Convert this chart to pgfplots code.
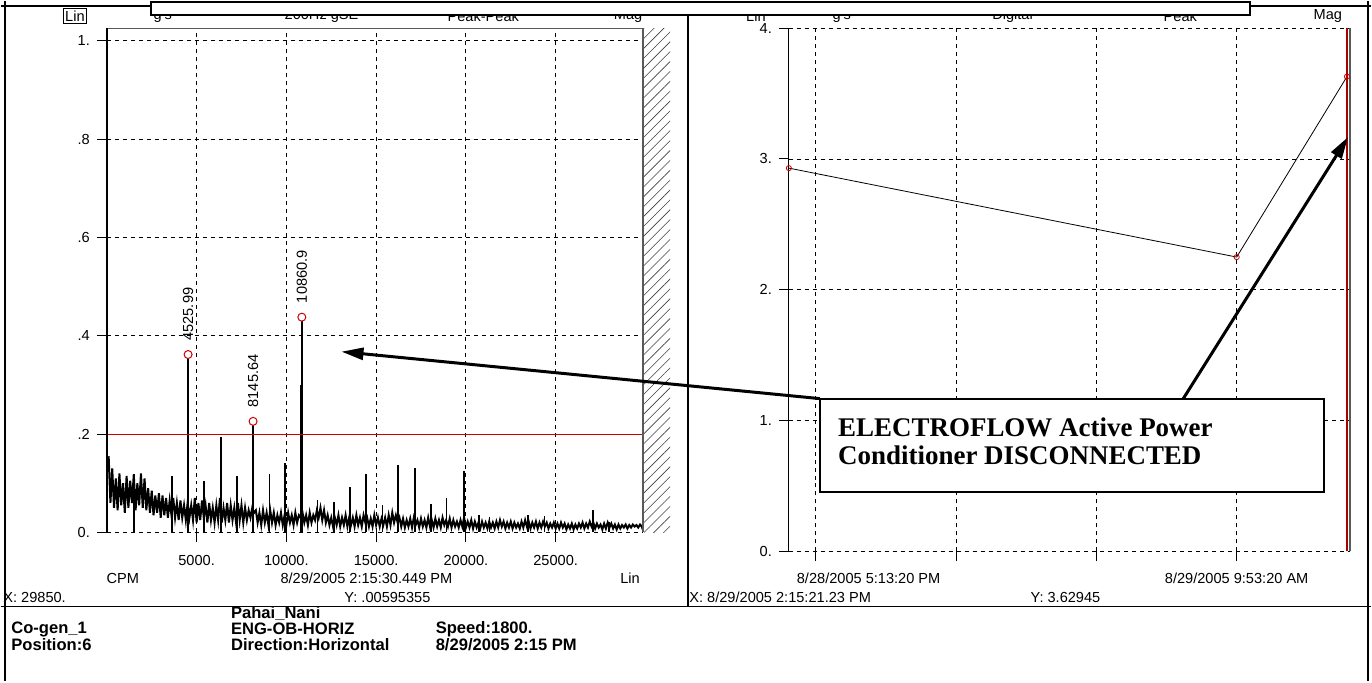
\documentclass[border=0pt]{standalone}
\usepackage{fontspec}
\setmainfont{Liberation Sans}
\newfontfamily\notefont{Liberation Serif}
\usepackage{pgfplots}
\pgfplotsset{compat=1.18}
\usetikzlibrary{arrows.meta,patterns.meta}

\definecolor{cursorred}{RGB}{205,0,0}
\definecolor{darkcursor}{RGB}{170,0,0}

\newcommand\ticksize{\fontsize{7.3}{8.5}\selectfont}
\newcommand\infosize{\fontsize{8.3}{9.5}\selectfont\bfseries}

\pgfplotsset{
  panel/.style={
    scale only axis,
    clip=false,
    axis line style={draw=none},
    tick align=outside,
    tick pos=left,
    major tick length=5pt,
    tick style={black, line width=0.5pt},
    grid=major,
    major grid style={black, line width=0.45pt, dash pattern=on 2pt off 2pt},
    ticklabel style={font=\ticksize},
    scaled x ticks=false,
    scaled y ticks=false,
    /pgf/number format/assume math mode=true,
  },
}

\begin{document}
\begin{tikzpicture}
\fill[white] (0,0) rectangle (686pt,-340.5pt);

% ---------------- spectrum panel ----------------
\begin{axis}[panel,
  at={(53pt,-266pt)}, anchor=south west,
  width=268.5pt, height=252.5pt,
  xmin=0, xmax=29870, ymin=0, ymax=1.026,
  xtick={5000,10000,15000,20000,25000},
  xticklabels={5000.,10000.,15000.,20000.,25000.},
  xticklabel style={yshift=-3pt},
  ytick={0,0.2,0.4,0.6,0.8,1},
  yticklabels={0.,.2,.4,.6,.8,1.},
]
% noise floor
\addplot[black, line width=1pt] coordinates {
(100,0.155)(200,0.06)(300,0.13)(400,0.05)(500,0.11)(600,0.045)(700,0.12)(800,0.055)(900,0.10)(1000,0.04)
(1100,0.115)(1200,0.05)(1300,0.105)(1400,0.06)(1500,0.118)(1600,0.045)(1700,0.10)(1800,0.055)(1900,0.12)(2000,0.05)
(2100,0.11)(2200,0.045)(2300,0.09)(2400,0.04)(2500,0.085)(2600,0.035)(2700,0.075)(2800,0.04)(2900,0.08)(3000,0.03)
(3100,0.075)(3200,0.035)(3300,0.07)(3400,0.03)(3500,0.065)(3600,0.035)(3700,0.07)(3800,0.03)(3900,0.06)(4000,0.025)
(4100,0.065)(4200,0.03)(4300,0.055)(4400,0.025)(4500,0.06)(4600,0.03)(4700,0.055)(4800,0.025)(4900,0.07)(5000,0.02)
(5100,0.06)(5200,0.025)(5300,0.065)(5400,0.03)(5500,0.055)(5600,0.02)(5700,0.06)(5800,0.025)(5900,0.05)(6000,0.02)
(6100,0.055)(6200,0.025)(6300,0.07)(6400,0.02)(6500,0.05)(6600,0.025)(6700,0.06)(6800,0.02)(6900,0.055)(7000,0.025)
(7100,0.05)(7200,0.02)(7300,0.06)(7400,0.025)(7500,0.055)(7600,0.02)(7700,0.05)(7800,0.025)(7900,0.045)(8000,0.03)
(8100,0.05)(8200,0.04)(8300,0.045)(8400,0.02)(8500,0.04)(8600,0.015)(8700,0.045)(8800,0.02)(8900,0.04)(9000,0.015)
(9100,0.045)(9200,0.02)(9300,0.04)(9400,0.015)(9500,0.035)(9600,0.02)(9700,0.04)(9800,0.015)(9900,0.035)(10000,0.015)
(10100,0.04)(10200,0.02)(10300,0.035)(10400,0.015)(10500,0.04)(10600,0.02)(10700,0.035)(10800,0.03)(10900,0.04)(11000,0.02)
(11100,0.035)(11200,0.015)(11300,0.04)(11400,0.02)(11500,0.035)(11600,0.025)(11700,0.045)(11800,0.03)(11900,0.05)(12000,0.025)
(12100,0.045)(12200,0.02)(12300,0.035)(12400,0.015)(12500,0.03)(12600,0.012)(12700,0.03)(12800,0.015)(12900,0.035)(13000,0.012)
(13100,0.03)(13200,0.015)(13300,0.035)(13400,0.012)(13500,0.03)(13600,0.015)(13700,0.03)(13800,0.012)(13900,0.035)(14000,0.015)
(14100,0.03)(14200,0.012)(14300,0.035)(14400,0.02)(14500,0.03)(14600,0.012)(14700,0.028)(14800,0.012)(14900,0.035)(15000,0.015)
(15100,0.03)(15200,0.012)(15300,0.028)(15400,0.015)(15500,0.03)(15600,0.012)(15700,0.035)(15800,0.015)(15900,0.04)(16000,0.02)
(16100,0.035)(16200,0.02)(16300,0.03)(16400,0.012)(16500,0.028)(16600,0.01)(16700,0.025)(16800,0.012)(16900,0.028)(17000,0.01)
(17100,0.03)(17200,0.015)(17300,0.025)(17400,0.01)(17500,0.028)(17600,0.012)(17700,0.025)(17800,0.01)(17900,0.03)(18000,0.012)
(18100,0.025)(18200,0.01)(18300,0.028)(18400,0.012)(18500,0.025)(18600,0.01)(18700,0.03)(18800,0.015)(18900,0.025)(19000,0.012)
(19100,0.028)(19200,0.01)(19300,0.025)(19400,0.012)(19500,0.022)(19600,0.01)(19700,0.025)(19800,0.012)(19900,0.03)(20000,0.01)
(20100,0.022)(20200,0.01)(20300,0.025)(20400,0.008)(20500,0.022)(20600,0.01)(20700,0.02)(20800,0.008)(20900,0.022)(21000,0.01)
(21100,0.02)(21200,0.008)(21300,0.022)(21400,0.01)(21500,0.02)(21600,0.008)(21700,0.022)(21800,0.01)(21900,0.025)(22000,0.012)
(22100,0.022)(22200,0.008)(22300,0.02)(22400,0.01)(22500,0.022)(22600,0.008)(22700,0.02)(22800,0.01)(22900,0.018)(23000,0.008)
(23100,0.022)(23200,0.01)(23300,0.025)(23400,0.012)(23500,0.022)(23600,0.008)(23700,0.02)(23800,0.01)(23900,0.022)(24000,0.008)
(24100,0.02)(24200,0.01)(24300,0.022)(24400,0.012)(24500,0.02)(24600,0.008)(24700,0.018)(24800,0.01)(24900,0.02)(25000,0.008)
(25100,0.018)(25200,0.008)(25300,0.02)(25400,0.01)(25500,0.018)(25600,0.006)(25700,0.016)(25800,0.008)(25900,0.018)(26000,0.006)
(26100,0.016)(26200,0.008)(26300,0.018)(26400,0.01)(26500,0.02)(26600,0.008)(26700,0.018)(26800,0.01)(26900,0.022)(27000,0.012)
(27100,0.02)(27200,0.008)(27300,0.018)(27400,0.01)(27500,0.016)(27600,0.006)(27700,0.018)(27800,0.008)(27900,0.02)(28000,0.01)
(28100,0.018)(28200,0.008)(28300,0.016)(28400,0.006)(28500,0.016)(28600,0.008)(28700,0.015)(28800,0.01)(28900,0.016)(29000,0.008)
(29100,0.015)(29200,0.01)(29300,0.016)(29400,0.012)(29500,0.015)(29600,0.01)(29700,0.016)(29800,0.012)(29850,0.006)
};
% harmonic spikes
\addplot[ycomb, black, line width=0.9pt] coordinates {
(1520,0.118)(3650,0.115)(5390,0.105)(6350,0.195)(7230,0.115)(9060,0.118)(9930,0.142)
(11730,0.065)(12640,0.062)(13560,0.092)(14440,0.118)(15360,0.056)(16230,0.137)(17170,0.131)
(18070,0.058)(18920,0.071)(19880,0.125)(20740,0.035)(21320,0.032)(23460,0.035)(24380,0.034)
(27070,0.045)(27950,0.022)
};
\addplot[ycomb, black, line width=1.4pt] coordinates {(8145.64,0.218)(10860.9,0.30)};
\addplot[ycomb, black, line width=0.8pt] coordinates {(4525.99,0.362)(8145.64,0.226)(10860.9,0.438)};
% alarm level and cursor
\addplot[cursorred, line width=0.5pt] coordinates {(0,0.2)(29870,0.2)};
\addplot[cursorred, line width=0.7pt] coordinates {(29850,0)(29850,1.026)};
% labelled peaks
\addplot[only marks, mark=*, mark size=2pt, mark options={fill=white, draw=cursorred, line width=0.5pt}]
  coordinates {(4525.99,0.362)(8145.64,0.226)(10860.9,0.438)};
\node[yshift=3.5pt, rotate=90, anchor=west, font=\ticksize] at (axis cs:4525.99,0.362) {4525.99};
\node[yshift=3.5pt, rotate=90, anchor=west, font=\ticksize] at (axis cs:8145.64,0.226) {8145.64};
\node[yshift=3.5pt, rotate=90, anchor=west, font=\ticksize] at (axis cs:10860.9,0.438) {10860.9};
% frame
\draw[black!65, line width=0.6pt] (rel axis cs:0,1) -- (rel axis cs:1,1) -- (rel axis cs:1,0);
\draw[black, line width=0.7pt] (rel axis cs:0,0) -- (rel axis cs:0,1);
\end{axis}

% hatched band right of the spectrum
\fill[pattern={Lines[angle=45,distance=3.5pt,line width=0.3pt]}, pattern color=black!75]
  (322pt,-13.5pt) rectangle (335pt,-266pt);

% ---------------- trend panel ----------------
\begin{axis}[panel,
  at={(394.5pt,-275.5pt)}, anchor=south west,
  width=281pt, height=262pt,
  xmin=-3.84, xmax=76.16, ymin=0, ymax=4,
  xtick={20,40,60},
  xticklabels={,,8/29/2005 9:53:20 AM},
  xticklabel style={yshift=-2.5pt},
  extra x ticks={0},
  extra x tick labels={8/28/2005 5:13:20 PM},
  extra x tick style={xticklabel style={anchor=north west, xshift=-13pt}},
  ytick={0,1,2,3,4},
  yticklabels={0.,1.,2.,3.,4.},
]
\addplot[black, line width=0.4pt, mark=o, mark size=1.3pt, mark options={cursorred, line width=0.4pt}]
  coordinates {(-3.84,2.93)(60,2.25)(75.72,3.62945)};
\addplot[darkcursor, line width=1pt] coordinates {(75.72,0)(75.72,4)};
\draw[black, line width=0.6pt] (rel axis cs:0,0) -- (rel axis cs:0,1);
\draw[black!65, line width=0.6pt] (rel axis cs:1,0) -- (rel axis cs:1,1);
\end{axis}

% ---------------- header rows ----------------
\node[draw, line width=0.5pt, inner sep=1pt, font=\ticksize] at (37pt,-7.5pt) {Lin};
\node[font=\ticksize] at (81pt,-7.5pt) {g's};
\node[font=\ticksize] at (160.5pt,-7.5pt) {200Hz gSE};
\node[font=\ticksize] at (241.5pt,-7.5pt) {Peak-Peak};
\node[font=\ticksize] at (314pt,-7.5pt) {Mag};
\node[font=\ticksize] at (378pt,-7.5pt) {Lin};
\node[font=\ticksize] at (421pt,-7.5pt) {g's};
\node[font=\ticksize] at (506.5pt,-7.5pt) {Digital};
\node[font=\ticksize] at (590.5pt,-7.5pt) {Peak};
\node[font=\ticksize, anchor=east] at (675pt,-7.5pt) {Mag};

% ---------------- footer of each panel ----------------
\node[font=\ticksize] at (61pt,-289pt) {CPM};
\node[font=\ticksize] at (183pt,-289pt) {8/29/2005 2:15:30.449 PM};
\node[font=\ticksize] at (315pt,-289pt) {Lin};
\node[font=\ticksize, anchor=west, inner sep=0pt] at (1pt,-298.5pt) {X: 29850.};
\node[font=\ticksize] at (193.5pt,-298.5pt) {Y: .00595355};
\node[font=\ticksize, anchor=west, inner sep=0pt] at (344.5pt,-298.5pt) {X: 8/29/2005 2:15:21.23 PM};
\node[font=\ticksize] at (533pt,-298.5pt) {Y: 3.62945};

% ---------------- outer frame ----------------
\draw[black, line width=1pt] (0,-2.5pt) -- (686pt,-2.5pt);
\draw[black, line width=1pt] (2pt,0) -- (2pt,-340.5pt);
\draw[black, line width=1pt] (684.5pt,0) -- (684.5pt,-340.5pt);
\draw[black, line width=1.2pt] (344pt,0) -- (344pt,-303pt);
\draw[black, line width=0.8pt] (0,-303pt) -- (686pt,-303pt);

% title strip laid over the header row
\draw[fill=white, line width=1pt] (75pt,-0.5pt) rectangle (625.5pt,-7pt);

% ---------------- point information ----------------
\node[font=\infosize, anchor=west, inner sep=0pt] at (115pt,-306.5pt) {Pahai\_Nani};
\node[font=\infosize, anchor=west, inner sep=0pt] at (5pt,-314.5pt) {Co-gen\_1};
\node[font=\infosize, anchor=west, inner sep=0pt] at (115pt,-314.5pt) {ENG-OB-HORIZ};
\node[font=\infosize, anchor=west, inner sep=0pt] at (217.5pt,-314.5pt) {Speed:1800.};
\node[font=\infosize, anchor=west, inner sep=0pt] at (5pt,-322pt) {Position:6};
\node[font=\infosize, anchor=west, inner sep=0pt] at (115pt,-322pt) {Direction:Horizontal};
\node[font=\infosize, anchor=west, inner sep=0pt] at (217.5pt,-322pt) {8/29/2005 2:15 PM};

% ---------------- annotation ----------------
\draw[line width=1.5pt, -{Triangle[length=11pt,width=6pt]}] (410pt,-199pt) -- (170.5pt,-175.5pt);
\draw[line width=1.5pt, -{Triangle[length=11pt,width=6pt]}] (592pt,-199pt) -- (674.5pt,-68pt);
\draw[fill=white, line width=1pt] (410pt,-199pt) rectangle (662.5pt,-246pt);
\node[anchor=base west, inner sep=0pt, font=\notefont\fontsize{13.5}{15}\selectfont\bfseries] at (419pt,-218pt) {ELECTROFLOW Active Power};
\node[anchor=base west, inner sep=0pt, font=\notefont\fontsize{13.5}{15}\selectfont\bfseries] at (419pt,-232pt) {Conditioner DISCONNECTED};
\end{tikzpicture}
\end{document}
